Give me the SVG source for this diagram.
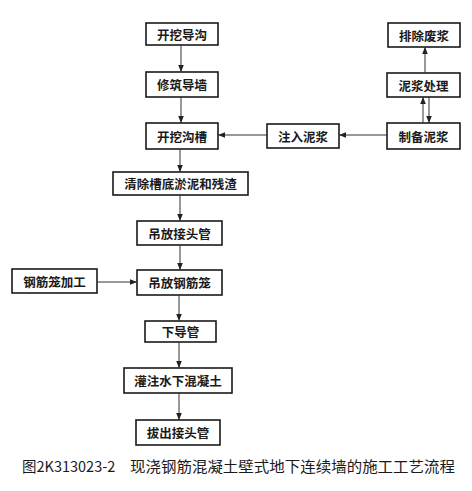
<svg xmlns="http://www.w3.org/2000/svg" width="472" height="491" viewBox="0 0 472 491">
<defs>
<marker id="ah" viewBox="0 0 10 10" refX="10" refY="5" markerWidth="7" markerHeight="7" markerUnits="userSpaceOnUse" orient="auto">
<path d="M0,1 L10,5 L0,9 z" fill="#222"/>
</marker>
</defs>
<style>
.box{fill:#fff;stroke:#1a1a1a;stroke-width:1.6}
.t{font-family:"Noto Sans CJK SC","Noto Sans",sans-serif;font-size:12.5px;font-weight:bold;fill:#1a1a1a;text-anchor:middle;dominant-baseline:central}
.c{stroke:#333;stroke-width:1;fill:none;marker-end:url(#ah)}
.cap{font-family:"Noto Sans CJK SC","Liberation Sans",sans-serif;font-size:14.5px;fill:#1a1a1a}
</style>
<rect width="472" height="491" fill="#fff"/>
<g id="n1"><rect class="box" x="146" y="23" width="72" height="22"/><text class="t" x="182" y="34">开挖导沟</text></g>
<g id="n2"><rect class="box" x="146" y="72" width="72" height="25"/><text class="t" x="182" y="84.5">修筑导墙</text></g>
<g id="n3"><rect class="box" x="146" y="123" width="72" height="26"/><text class="t" x="182" y="136">开挖沟槽</text></g>
<g id="n4"><rect class="box" x="267" y="124" width="72" height="24"/><text class="t" x="303" y="136">注入泥浆</text></g>
<g id="n5"><rect class="box" x="387" y="123" width="73" height="26"/><text class="t" x="423.5" y="136">制备泥浆</text></g>
<g id="n6"><rect class="box" x="387" y="73" width="73" height="24"/><text class="t" x="423.5" y="85">泥浆处理</text></g>
<g id="n7"><rect class="box" x="388" y="23" width="72" height="24"/><text class="t" x="424" y="35">排除废浆</text></g>
<g id="n8"><rect class="box" x="113" y="172" width="135" height="23"/><text class="t" x="180.5" y="183.5">清除槽底淤泥和残渣</text></g>
<g id="n9"><rect class="box" x="137" y="221" width="85" height="24"/><text class="t" x="179.5" y="233">吊放接头管</text></g>
<g id="n10"><rect class="box" x="12" y="269" width="85" height="24"/><text class="t" x="54.5" y="281">钢筋笼加工</text></g>
<g id="n11"><rect class="box" x="137" y="270" width="85" height="25"/><text class="t" x="179.5" y="282.5">吊放钢筋笼</text></g>
<g id="n12"><rect class="box" x="145" y="321" width="71" height="21"/><text class="t" x="180.5" y="331.5">下导管</text></g>
<g id="n13"><rect class="box" x="124" y="368" width="108" height="25"/><text class="t" x="178" y="380.5">灌注水下混凝土</text></g>
<g id="n14"><rect class="box" x="136" y="420" width="84" height="25"/><text class="t" x="178" y="432.5">拔出接头管</text></g>
<g id="connectors">
<line class="c" x1="181" y1="45" x2="181" y2="72"/>
<line class="c" x1="181" y1="97" x2="181" y2="123"/>
<line class="c" x1="180" y1="149" x2="180" y2="172"/>
<line class="c" x1="180" y1="195" x2="180" y2="221"/>
<line class="c" x1="180" y1="245" x2="180" y2="270"/>
<line class="c" x1="179" y1="295" x2="179" y2="321"/>
<line class="c" x1="179" y1="342" x2="179" y2="368"/>
<line class="c" x1="179" y1="393" x2="179" y2="420"/>
<line class="c" x1="97" y1="282" x2="137" y2="282"/>
<line class="c" x1="387" y1="135" x2="339" y2="135"/>
<line class="c" x1="267" y1="135" x2="218" y2="135"/>
<line class="c" x1="423" y1="123" x2="423" y2="97"/>
<line class="c" x1="429" y1="97" x2="429" y2="123"/>
<line class="c" x1="425" y1="73" x2="425" y2="47"/>
</g>
<text class="cap" x="22" y="472">图2K313023-2</text>
<text class="cap" x="130" y="472" textLength="325" lengthAdjust="spacingAndGlyphs">现浇钢筋混凝土壁式地下连续墙的施工工艺流程</text>
</svg>
